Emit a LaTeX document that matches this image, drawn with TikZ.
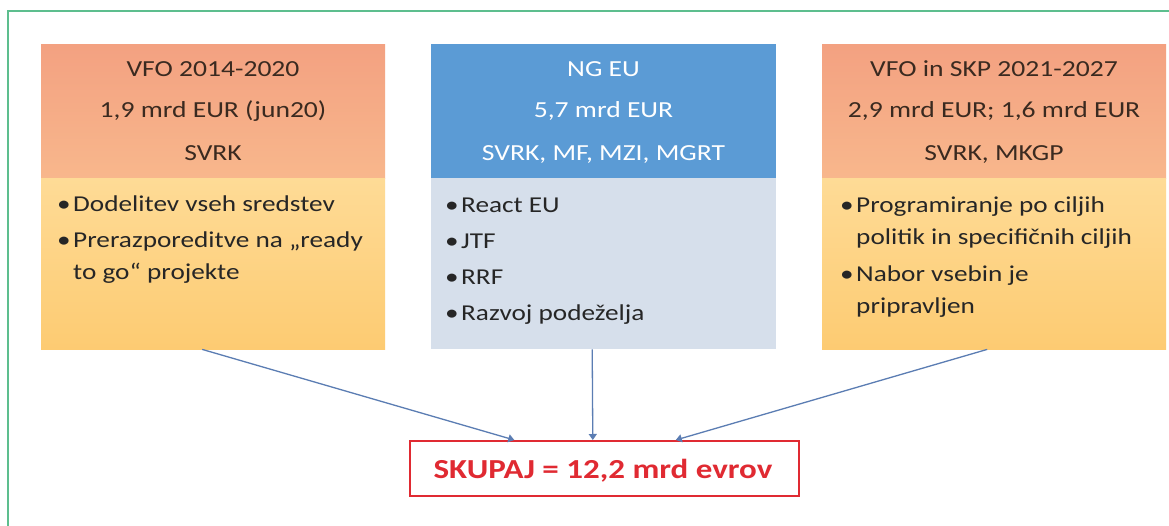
\documentclass[tikz,border=0pt]{standalone}
\usepackage{fontspec}
\setmainfont{Carlito}[FakeStretch=1.2]
\usetikzlibrary{arrows.meta,calc}
\definecolor{frameG}{HTML}{5DBE8E}
\definecolor{hdrTop}{HTML}{F3A181}
\definecolor{hdrBot}{HTML}{F8B78C}
\definecolor{bodyTop}{HTML}{FEDB96}
\definecolor{bodyBot}{HTML}{FDCB72}
\definecolor{blueHdr}{HTML}{5B9BD5}
\definecolor{blueBody}{HTML}{D6DFEB}
\definecolor{hdrText}{HTML}{3A2A20}
\definecolor{bodyText}{HTML}{262626}
\definecolor{arrowC}{HTML}{5B7DB3}
\definecolor{redC}{HTML}{E02A32}
\tikzset{
  boxbase/.style={draw=none, inner sep=0pt, anchor=north west},
  orghdr/.style={boxbase, top color=hdrTop, bottom color=hdrBot},
  orgbody/.style={boxbase, top color=bodyTop, bottom color=bodyBot},
  bluehdr/.style={boxbase, fill=blueHdr},
  bluebody/.style={boxbase, fill=blueBody},
  htxt/.style={inner sep=0pt, anchor=base, text=hdrText, font=\fontsize{23}{27}\selectfont},
  whtxt/.style={htxt, text=white},
  btxt/.style={inner sep=0pt, anchor=base west, text=bodyText, font=\fontsize{22.7}{26}\selectfont},
  bul/.style={inner sep=0pt, anchor=base, text=bodyText, font=\fontsize{22.7}{26}\selectfont},
  arr/.style={draw=arrowC, line width=1.3pt, -{Triangle[width=8pt,length=6pt]}},
  totbox/.style={draw=redC, line width=1.6pt, fill=white, inner sep=0pt, anchor=north west},
  tottxt/.style={inner sep=0pt, anchor=base, text=redC, font=\fontsize{27.5}{32}\selectfont\bfseries}
}
\begin{document}
\begin{tikzpicture}[x=1pt,y=-1pt]
\useasboundingbox (0,0) rectangle (1169,526);
\fill[white] (0,0) rectangle (1169,526);
% frame
\draw[frameG, line width=2.2pt] (8,527) -- (8,11) -- (1170,11);

% boxes
\node[orghdr, minimum width=344pt, minimum height=134pt] (h1) at (41,44) {};
\node[orgbody, minimum width=344pt, minimum height=171pt] (b1) at (41,178) {};
\node[bluehdr, minimum width=345pt, minimum height=134pt] (h2) at (431,44) {};
\node[bluebody, minimum width=345pt, minimum height=171pt] (b2) at (431,178) {};
\node[orghdr, minimum width=344pt, minimum height=134pt] (h3) at (822,44) {};
\node[orgbody, minimum width=344pt, minimum height=171pt] (b3) at (822,178) {};

% header texts
\node[htxt] (h1a) at (213,77) {VFO 2014-2020};
\node[htxt] (h1b) at (213,118) {1,9 mrd EUR (jun20)};
\node[htxt] (h1c) at (213,161) {SVRK};
\node[whtxt] (h2a) at (603.5,77) {NG EU};
\node[whtxt] (h2b) at (603.5,118) {5,7 mrd EUR};
\node[whtxt] (h2c) at (603.5,161) {SVRK, MF, MZI, MGRT};
\node[htxt] (h3a) at (994,77) {VFO in SKP 2021-2027};
\node[htxt] (h3b) at (994,118) {2,9 mrd EUR; 1,6 mrd EUR};
\node[htxt] (h3c) at (994,161) {SVRK, MKGP};

% body texts box 1
\node[bul] (u1a) at (64,212) {•};
\node[btxt] (t1a) at (73,212) {Dodelitev vseh sredstev};
\node[bul] (u1b) at (64,248) {•};
\node[btxt] (t1b) at (73,248) {Prerazporeditve na „ready};
\node[btxt] (t1c) at (73,280) {to go“ projekte};

% body texts box 2
\node[bul] (u2a) at (452,213) {•};
\node[btxt] (t2a) at (461,213) {React EU};
\node[bul] (u2b) at (452,249) {•};
\node[btxt] (t2b) at (461,249) {JTF};
\node[bul] (u2c) at (452,285) {•};
\node[btxt] (t2c) at (461,285) {RRF};
\node[bul] (u2d) at (452,320) {•};
\node[btxt] (t2d) at (461,320) {Razvoj podeželja};

% body texts box 3
\node[bul] (u3a) at (847,213) {•};
\node[btxt] (t3a) at (856,213) {Programiranje po ciljih};
\node[btxt] (t3b) at (856,245) {politik in specifičnih ciljih};
\node[bul] (u3b) at (847,282) {•};
\node[btxt] (t3c) at (856,282) {Nabor vsebin je};
\node[btxt] (t3d) at (856,313) {pripravljen};

% total
\node[totbox, minimum width=389pt, minimum height=55pt] (tot) at (409,440) {};
\node[tottxt] (tt) at (603,478) {SKUPAJ = 12,2 mrd evrov};

% arrows
\draw[arr] ($(b1.south)+(-11,0)$) -- ($(tot.north)+(-90,0)$);
\draw[arr] ($(b2.south)+(-11.5,0)$) -- ($(tot.north)+(-11.5,0)$);
\draw[arr] ($(b3.south)+(-7,0)$) -- ($(tot.north)+(71.5,0)$);
\end{tikzpicture}
\end{document}
